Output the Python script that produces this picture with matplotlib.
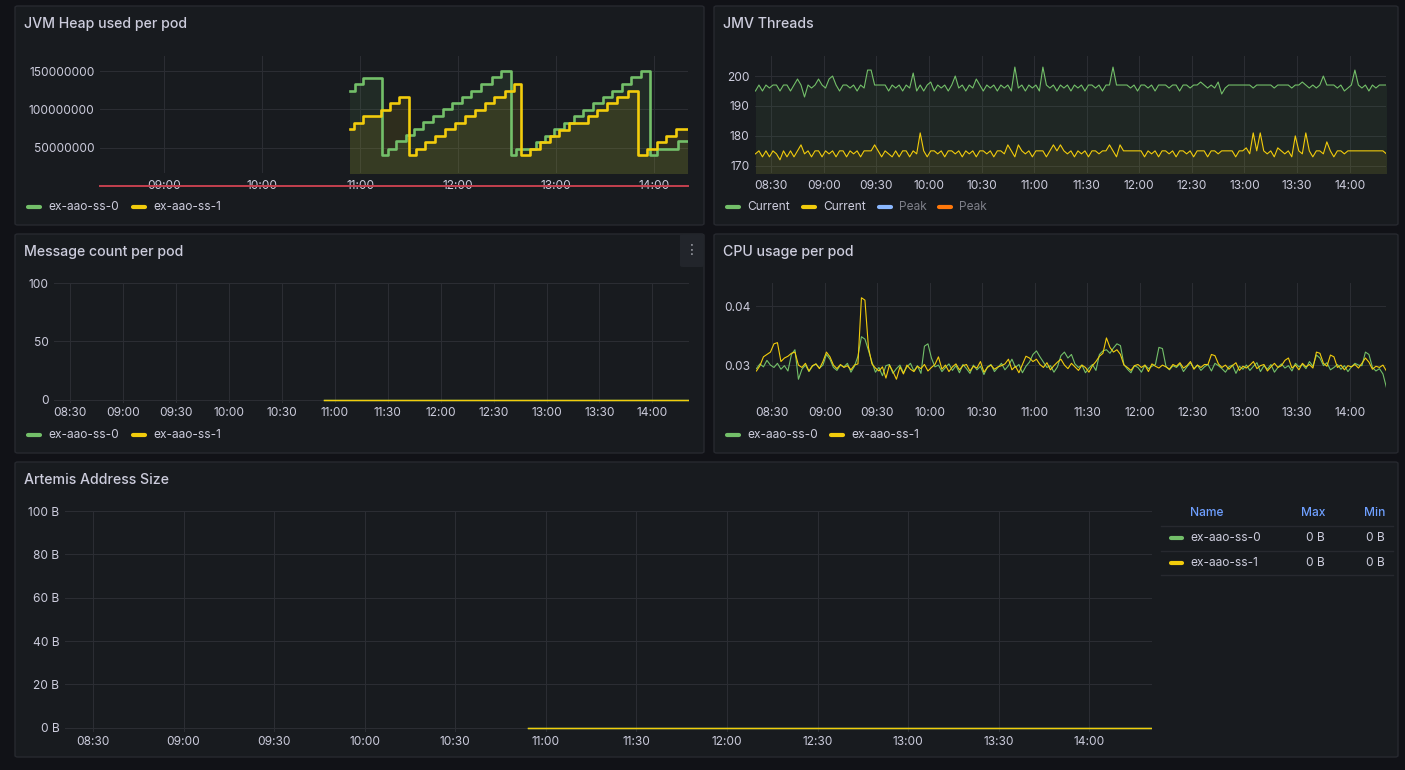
import numpy as np
import matplotlib.pyplot as plt
from matplotlib.patches import FancyBboxPatch
from matplotlib.lines import Line2D

W, H = 1405, 770
BG = '#111217'
PANEL = '#181b1f'
BORDER = '#27292f'
GRID = '#2b2d33'
TEXT = '#ccccdc'
DIM = '#7e8089'
GREEN = '#73bf69'
YELLOW = '#f2cc0c'
BLUE = '#8ab8ff'
ORANGE = '#ff780a'
RED = '#c4414f'
LINK = '#6e9fff'

plt.rcParams['font.family'] = ['Inter', 'DejaVu Sans']

# ---- data ----
pods = ["ex-aao-ss-0", "ex-aao-ss-1"]
view_start, view_end = "08:20:45", "14:20:45"
half_hour_ticks = ["08:30", "09:00", "09:30", "10:00", "10:30", "11:00",
                   "11:30", "12:00", "12:30", "13:00", "13:30", "14:00"]
hour_ticks = ["09:00", "10:00", "11:00", "12:00", "13:00", "14:00"]

# JVM heap (MB), step series
heap_t_ss0 = ["10:54", "10:57", "11:01:30", "11:13:30", "11:17", "11:22", "11:28",
              "11:33", "11:38:30", "11:44:30", "11:50:30", "11:56:30", "12:02:30",
              "12:08", "12:14", "12:20:30", "12:26:30", "12:32:30", "12:35:30",
              "12:47:30", "12:53:30", "12:59", "13:05", "13:11", "13:16:30",
              "13:22:30", "13:28:30", "13:34:30", "13:40:30", "13:46", "13:52",
              "13:57:30", "14:02", "14:14:30", "14:20:45"]
heap_ss0 = [124, 133, 141, 40.5, 49, 58.5, 67, 74.5, 84, 91.5, 100, 108, 116,
            124.5, 133, 142, 150, 40.5, 49, 57.5, 66, 74.5, 82.5, 91, 99.5, 108,
            116.5, 124, 133.5, 142, 150, 40.5, 49, 58.5, 58.5]
heap_t_ss1 = ["10:54", "10:56", "11:02", "11:13", "11:18:30", "11:24", "11:30",
              "11:34", "11:40", "11:46", "11:52", "11:58", "12:04:30", "12:10:30",
              "12:16:30", "12:22", "12:28:30", "12:34", "12:38:30", "12:44",
              "12:50", "12:56", "13:02", "13:08", "13:19:30", "13:25", "13:31",
              "13:37:30", "13:44", "13:50", "13:55:30", "14:01:30", "14:07:30",
              "14:13:30", "14:20:45"]
heap_ss1 = [74.5, 83, 91, 99.5, 108, 116.5, 40.5, 49, 57.5, 65.5, 74.5, 83, 91,
            99.5, 108, 116.5, 124, 133.5, 40.5, 49, 57.5, 65.5, 74, 82.5, 91, 99.5,
            108, 116.5, 124, 40.5, 49, 57.5, 66, 74.5, 74.5]

# samples every 2 minutes from 08:21
sample_start, sample_step = "08:21", 2

threads_ss0 = [
    195, 197, 195, 197, 196, 197, 197, 195, 197, 197,
    195, 197, 199, 197, 193, 197, 196, 197, 199, 197,
    196, 199, 200, 197, 195, 197, 197, 196, 197, 195,
    197, 196, 202, 202, 197, 197, 197, 197, 195, 197,
    196, 197, 195, 197, 196, 201, 195, 197, 195, 197,
    198, 195, 197, 196, 197, 195, 197, 200, 196, 197,
    195, 197, 196, 199, 197, 195, 197, 196, 197, 195,
    197, 196, 197, 195, 203, 196, 197, 195, 197, 196,
    197, 195, 203, 197, 196, 197, 195, 197, 196, 197,
    195, 197, 196, 197, 195, 197, 197, 196, 197, 195,
    197, 197, 203, 197, 197, 197, 197, 196, 197, 195,
    197, 197, 196, 197, 195, 197, 197, 197, 196, 197,
    197, 195, 197, 197, 196, 197, 197, 198, 197, 196,
    197, 196, 198, 194, 196, 197, 197, 197, 197, 197,
    197, 197, 196, 197, 197, 197, 197, 197, 196, 197,
    197, 197, 197, 196, 197, 197, 198, 197, 196, 197,
    196, 197, 200, 197, 197, 197, 196, 197, 195, 196,
    197, 202, 197, 196, 197, 195, 197, 196, 197, 197, 197]
threads_ss1 = [
    174, 175, 173, 175, 173, 175, 174, 172, 175, 173,
    175, 173, 175, 177, 174, 175, 173, 175, 175, 173,
    175, 174, 175, 173, 175, 175, 173, 175, 174, 175,
    173, 175, 175, 175, 177, 175, 173, 175, 174, 173,
    175, 173, 175, 175, 173, 175, 174, 181, 175, 173,
    175, 175, 174, 175, 173, 175, 175, 174, 175, 173,
    175, 174, 175, 173, 175, 175, 174, 175, 173, 175,
    175, 174, 177, 175, 173, 177, 175, 174, 175, 173,
    175, 175, 175, 173, 175, 177, 175, 177, 175, 174,
    175, 173, 175, 174, 175, 173, 175, 175, 174, 175,
    175, 177, 175, 173, 177, 175, 175, 175, 175, 175,
    175, 173, 175, 174, 175, 173, 175, 175, 174, 175,
    173, 175, 175, 174, 175, 173, 175, 175, 175, 173,
    175, 175, 174, 175, 175, 175, 175, 173, 175, 175,
    176, 174, 181, 175, 181, 175, 174, 175, 173, 176,
    175, 174, 175, 173, 180, 175, 174, 181, 175, 173,
    175, 175, 174, 178, 175, 173, 175, 175, 174, 175,
    175, 175, 175, 175, 175, 175, 175, 175, 175, 175, 174]

# CPU usage in units of 0.0001 cores
cpu_ss0 = [
    294, 302, 297, 308, 300, 296, 303, 293, 299, 290,
    318, 326, 276, 293, 300, 289, 298, 302, 295, 300,
    318, 310, 296, 291, 300, 297, 303, 288, 298, 315,
    348, 344, 325, 305, 288, 296, 282, 299, 301, 286,
    294, 300, 287, 297, 303, 290, 299, 286, 332, 336,
    312, 297, 300, 289, 296, 302, 291, 299, 287, 301,
    294, 286, 300, 292, 298, 284, 297, 301, 289, 296,
    303, 292, 299, 310, 296, 301, 287, 298, 305, 318,
    324, 314, 305, 296, 299, 288, 297, 316, 322, 312,
    318, 302, 296, 300, 287, 295, 301, 291, 318, 324,
    326, 320, 329, 336, 333, 301, 293, 287, 299, 296,
    288, 300, 294, 298, 301, 330, 328, 298, 292, 299,
    296, 302, 289, 297, 304, 294, 300, 291, 297, 301,
    290, 303, 299, 294, 288, 297, 300, 286, 298, 293,
    300, 291, 298, 304, 289, 299, 293, 301, 288, 296,
    302, 295, 299, 290, 303, 297, 301, 294, 306, 298,
    317, 312, 299, 304, 292, 296, 301, 293, 299, 289,
    297, 303, 300, 299, 322, 318, 296, 290, 294, 285, 262]
cpu_ss1 = [
    290, 299, 314, 318, 322, 336, 338, 306, 312, 315,
    320, 322, 300, 296, 303, 290, 299, 302, 294, 306,
    322, 314, 300, 294, 301, 296, 299, 292, 300, 302,
    414, 410, 330, 302, 295, 290, 297, 278, 300, 289,
    276, 297, 285, 300, 293, 289, 298, 294, 301, 290,
    296, 301, 314, 293, 300, 289, 297, 302, 292, 299,
    301, 290, 298, 295, 306, 288, 296, 300, 293, 297,
    299, 302, 310, 292, 298, 287, 301, 315, 312, 306,
    310, 301, 296, 304, 292, 299, 305, 310, 300, 294,
    303, 297, 291, 300, 296, 288, 299, 306, 315, 320,
    346, 330, 322, 326, 318, 300, 296, 291, 299, 301,
    296, 300, 289, 302, 298, 295, 300, 297, 293, 301,
    298, 304, 295, 299, 306, 293, 300, 296, 301, 301,
    318, 316, 302, 296, 300, 293, 299, 304, 291, 298,
    295, 300, 306, 294, 299, 301, 290, 297, 303, 296,
    299, 308, 312, 295, 300, 292, 303, 297, 301, 295,
    322, 320, 303, 298, 317, 314, 296, 300, 292, 299,
    297, 301, 295, 303, 312, 305, 293, 298, 296, 300, 290]

# message count and address size: flat zero after pods started
flat_t = ["10:54", "14:20:45"]
msg_ss0 = [0, 0]
msg_ss1 = [0, 0]
addr_ss0 = [0, 0]
addr_ss1 = [0, 0]
addr_max = ["0 B", "0 B"]
addr_min = ["0 B", "0 B"]


def mins(s):
    p = [float(v) for v in s.split(':')]
    return p[0] * 60 + p[1] + (p[2] / 60 if len(p) > 2 else 0)


T0, T1 = mins(view_start), mins(view_end)
sample_t = mins(sample_start) + sample_step * np.arange(len(threads_ss0))

fig = plt.figure(figsize=(W / 100, H / 100), dpi=100, facecolor=BG)


def fx(x):
    return x / W


def fy(y):
    return 1 - y / H


def panel(x0, y0, x1, y1, title):
    fig.add_artist(FancyBboxPatch((fx(x0), fy(y1)), fx(x1) - fx(x0), fy(y0) - fy(y1),
                                  boxstyle='round,pad=0,rounding_size=0.002',
                                  transform=fig.transFigure, fc=PANEL, ec=BORDER,
                                  lw=1, zorder=0))
    fig.text(fx(x0 + 9), fy(y0 + 22), title, color=TEXT, fontsize=10.2,
             fontweight='medium', va='baseline', ha='left')


def make_ax(x0, y0, x1, y1, xt, yt, ylab, ylim, xpad):
    ax = fig.add_axes([fx(x0), fy(y1), fx(x1) - fx(x0), fy(y0) - fy(y1)])
    ax.set_facecolor('none')
    ax.set_xlim(T0, T1)
    ax.set_ylim(*ylim)
    ax.set_xticks([mins(s) for s in xt])
    ax.set_xticklabels(xt)
    ax.set_yticks(yt)
    ax.set_yticklabels(ylab)
    ax.tick_params(length=0, colors=TEXT, labelsize=8.6)
    ax.tick_params(axis='x', pad=xpad)
    ax.tick_params(axis='y', pad=4)
    ax.grid(True, color=GRID, lw=0.75)
    ax.set_axisbelow(True)
    for s in ax.spines.values():
        s.set_visible(False)
    return ax


def legend_item(x, y, label, color, tcolor=TEXT):
    fig.add_artist(Line2D([fx(x), fx(x + 12)], [fy(y), fy(y)], transform=fig.transFigure,
                          color=color, lw=3, solid_capstyle='round'))
    fig.text(fx(x + 20), fy(y), label, color=tcolor, fontsize=8.6, va='center')


# ---- panels ----
panel(15, 6, 704, 225, "JVM Heap used per pod")
panel(714, 6, 1398, 225, "JMV Threads")
panel(15, 234, 704, 453, "Message count per pod")
panel(714, 234, 1398, 453, "CPU usage per pod")
panel(15, 462, 1398, 757, "Artemis Address Size")

# JVM heap
ax1 = make_ax(100, 56, 688, 173, hour_ticks, [50e6, 100e6, 150e6],
              ["50000000", "100000000", "150000000"], (17.5e6, 169.5e6), 5)
for ts, vals, c in [(heap_t_ss0, heap_ss0, GREEN), (heap_t_ss1, heap_ss1, YELLOW)]:
    t = [mins(s) for s in ts]
    v = np.array(vals) * 1e6
    ax1.fill_between(t, v, 0, step='post', color=c, alpha=0.1, lw=0)
    ax1.step(t, v, where='post', color=c, lw=1.9)
ax1.axhline(0, color=RED, lw=1.4, clip_on=False)
legend_item(28, 207, pods[0], GREEN)
legend_item(133, 207, pods[1], YELLOW)

# JMV threads
ax2 = make_ax(755, 56, 1386, 173, half_hour_ticks, [170, 180, 190, 200],
              ["170", "180", "190", "200"], (167.6, 206.7), 4.8)
for vals, c in [(threads_ss0, GREEN), (threads_ss1, YELLOW)]:
    ax2.fill_between(sample_t, vals, 0, color=c, alpha=0.08, lw=0)
    ax2.plot(sample_t, vals, color=c, lw=0.8)
legend_item(727, 207, "Current", GREEN)
legend_item(803, 207, "Current", YELLOW)
legend_item(879, 207, "Peak", BLUE, DIM)
legend_item(939, 207, "Peak", ORANGE, DIM)

# Message count
ax3 = make_ax(54, 283, 689, 403, half_hour_ticks, [0, 50, 100],
              ["0", "50", "100"], (-3, 100), 2.8)
ax3.plot([mins(s) for s in flat_t], msg_ss0, color=GREEN, lw=1)
ax3.plot([mins(s) for s in flat_t], msg_ss1, color=YELLOW, lw=1)
legend_item(28, 435, pods[0], GREEN)
legend_item(133, 435, pods[1], YELLOW)
fig.add_artist(FancyBboxPatch((fx(680), fy(267)), fx(24), fy(234) - fy(267),
                              boxstyle='round,pad=0,rounding_size=0.002',
                              transform=fig.transFigure, fc='#22252b', ec='none'))
fig.text(fx(692), fy(250), '\u22ee', color='#a0a2aa', fontsize=10,
         ha='center', va='center', family=['DejaVu Sans'])

# CPU usage
ax4 = make_ax(756, 283, 1386, 402, half_hour_ticks, [0.03, 0.04],
              ["0.03", "0.04"], (0.02375, 0.0439), 3.8)
for vals, c in [(cpu_ss0, GREEN), (cpu_ss1, YELLOW)]:
    ax4.plot(sample_t, np.array(vals) / 10000, color=c, lw=0.8)
legend_item(727, 435, pods[0], GREEN)
legend_item(831, 435, pods[1], YELLOW)

# Artemis address size
ax5 = make_ax(65, 511, 1152, 731.7, half_hour_ticks, [0, 20, 40, 60, 80, 100],
              ["0 B", "20 B", "40 B", "60 B", "80 B", "100 B"], (-1.85, 100), 2.9)
ax5.plot([mins(s) for s in flat_t], addr_ss0, color=GREEN, lw=1)
ax5.plot([mins(s) for s in flat_t], addr_ss1, color=YELLOW, lw=1)

# table legend
fig.text(fx(1190), fy(513), "Name", color=LINK, fontsize=8.6, fontweight='medium', va='center')
fig.text(fx(1325), fy(513), "Max", color=LINK, fontsize=8.6, fontweight='medium',
         va='center', ha='right')
fig.text(fx(1385), fy(513), "Min", color=LINK, fontsize=8.6, fontweight='medium',
         va='center', ha='right')
for yy in [526, 550.5, 574.5]:
    fig.add_artist(Line2D([fx(1161), fx(1393)], [fy(yy), fy(yy)], transform=fig.transFigure,
                          color=BORDER, lw=1))
for i, (name, c) in enumerate(zip(pods, [GREEN, YELLOW])):
    yy = 538.3 + 24.3 * i
    fig.add_artist(Line2D([fx(1171), fx(1182)], [fy(yy), fy(yy)], transform=fig.transFigure,
                          color=c, lw=3, solid_capstyle='round'))
    fig.text(fx(1190), fy(yy), name, color=TEXT, fontsize=8.6, va='center')
    fig.text(fx(1325), fy(yy), addr_max[i], color=TEXT, fontsize=8.6, va='center', ha='right')
    fig.text(fx(1385), fy(yy), addr_min[i], color=TEXT, fontsize=8.6, va='center', ha='right')

fig.savefig('out.png', dpi=100, facecolor=BG)
